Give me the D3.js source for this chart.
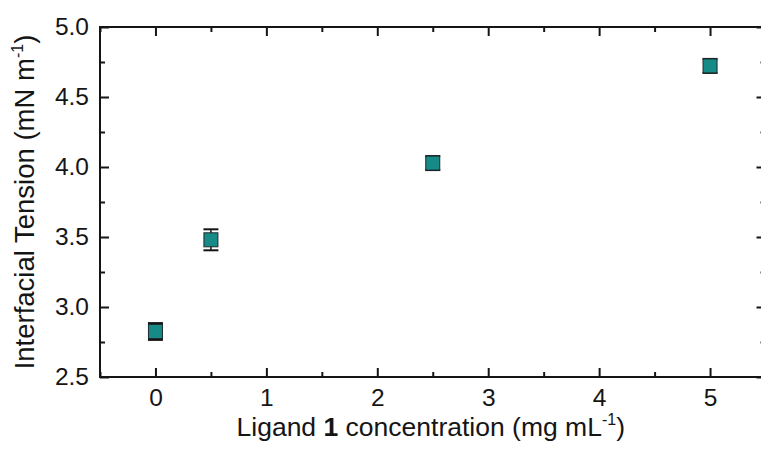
<!DOCTYPE html>
<html>
<head>
<meta charset="utf-8">
<script src="https://cdn.jsdelivr.net/npm/d3@7"></script>
<style>
  body { margin: 0; background: #fff; }
  svg { display: block; font-family: "Liberation Sans", Arial, sans-serif; }
</style>
</head>
<body>
<svg width="761" height="456"></svg>
<script>
// data
const concentration = [0, 0.5, 2.5, 5]
const tension = [2.825, 3.48, 4.028, 4.722]
const tensionErr = [0.06, 0.075, 0.05, 0.05]
const xTicks = [0, 1, 2, 3, 4, 5]
const yTicks = [2.5, 3.0, 3.5, 4.0, 4.5, 5.0]

const svg = d3.select("svg"),
    margin = {top: 27, left: 100},
    width = 665.5,
    height = 350,
    ink = "#151515"

const x = d3.scaleLinear().domain([-0.5, 5.5]).range([0, width])
const y = d3.scaleLinear().domain([2.5, 5.0]).range([height, 0])

const g = svg.append("g")
  .attr("transform", "translate(" + margin.left + "," + margin.top + ")")

const styleAxis = sel => {
  sel.select(".domain").remove()
  sel.selectAll("line").attr("stroke", ink).attr("stroke-width", 2)
  sel.selectAll("text").attr("fill", ink).attr("font-size", 24.5)
    .attr("font-family", "Liberation Sans, Arial, sans-serif")
}

const xMinor = d3.range(-0.5, 5.51, 0.5).filter(v => !xTicks.includes(v))
const yMinor = d3.range(2.75, 5, 0.5)

// bottom axis, ticks point inward
g.append("g").attr("transform", "translate(0," + height + ")")
  .call(d3.axisBottom(x).tickValues(xTicks).tickFormat(d3.format("d"))
    .tickSizeInner(-9).tickPadding(12))
  .call(styleAxis)
g.append("g").attr("transform", "translate(0," + height + ")")
  .call(d3.axisBottom(x).tickValues(xMinor).tickFormat("").tickSizeInner(-5).tickSizeOuter(0))
  .call(styleAxis)

// top axis
g.append("g")
  .call(d3.axisTop(x).tickValues(xTicks).tickFormat("").tickSizeInner(-9).tickSizeOuter(0))
  .call(styleAxis)
g.append("g")
  .call(d3.axisTop(x).tickValues(xMinor).tickFormat("").tickSizeInner(-5).tickSizeOuter(0))
  .call(styleAxis)

// left axis
g.append("g")
  .call(d3.axisLeft(y).tickValues(yTicks).tickFormat(d3.format(".1f"))
    .tickSizeInner(-9).tickPadding(11))
  .call(styleAxis)
g.append("g")
  .call(d3.axisLeft(y).tickValues(yMinor).tickFormat("").tickSizeInner(-5).tickSizeOuter(0))
  .call(styleAxis)

// right axis
g.append("g").attr("transform", "translate(" + width + ",0)")
  .call(d3.axisRight(y).tickValues(yTicks).tickFormat("").tickSizeInner(-9).tickSizeOuter(0))
  .call(styleAxis)
g.append("g").attr("transform", "translate(" + width + ",0)")
  .call(d3.axisRight(y).tickValues(yMinor).tickFormat("").tickSizeInner(-5).tickSizeOuter(0))
  .call(styleAxis)

// frame
g.append("rect")
  .attr("width", width).attr("height", height)
  .attr("fill", "none").attr("stroke", ink).attr("stroke-width", 2)

// points with error bars (bars under the marker)
const pts = concentration.map((c, i) => ({c, v: tension[i], e: tensionErr[i]}))
const cap = 7.5, half = 7

const pt = g.selectAll(".pt").data(pts).join("g").attr("class", "pt")
pt.append("line")
  .attr("x1", d => x(d.c)).attr("x2", d => x(d.c))
  .attr("y1", d => y(d.v + d.e)).attr("y2", d => y(d.v - d.e))
  .attr("stroke", ink).attr("stroke-width", 1.5)
pt.selectAll(".cap").data(d => [[d.c, d.v + d.e], [d.c, d.v - d.e]]).join("line")
  .attr("class", "cap")
  .attr("x1", d => x(d[0]) - cap).attr("x2", d => x(d[0]) + cap)
  .attr("y1", d => y(d[1])).attr("y2", d => y(d[1]))
  .attr("stroke", ink).attr("stroke-width", 2)
pt.append("rect")
  .attr("x", d => x(d.c) - half).attr("y", d => y(d.v) - half)
  .attr("width", half * 2).attr("height", half * 2)
  .attr("fill", "#168a86").attr("stroke", "#1e2a2a").attr("stroke-width", 1)

// axis titles
const xt = svg.append("text")
  .attr("x", margin.left + x(2.5) - 2).attr("y", 436)
  .attr("text-anchor", "middle").attr("font-size", 26.5).attr("fill", ink)
xt.append("tspan").text("Ligand ")
xt.append("tspan").attr("font-weight", "bold").text("1")
xt.append("tspan").text(" concentration (mg mL")
xt.append("tspan").attr("font-size", 16).attr("dy", -11).text("-1")
xt.append("tspan").attr("dy", 11).text(")")

const yt = svg.append("text")
  .attr("transform", "translate(34," + (margin.top + height / 2) + ") rotate(-90)")
  .attr("text-anchor", "middle").attr("font-size", 27.5).attr("fill", ink)
yt.append("tspan").text("Interfacial Tension (mN m")
yt.append("tspan").attr("font-size", 16).attr("dy", -11).text("-1")
yt.append("tspan").attr("dy", 11).text(")")
</script>
</body>
</html>
